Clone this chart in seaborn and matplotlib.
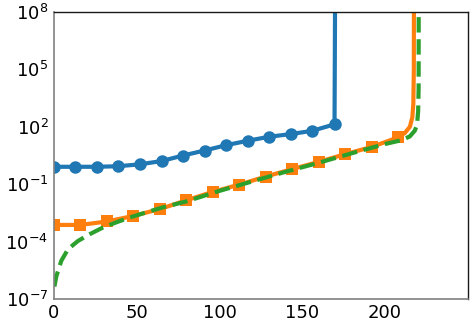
import matplotlib
matplotlib.use("Agg")
import matplotlib.pyplot as plt
import numpy as np
import pandas as pd
import seaborn as sns

sns.set_style("white")
plt.rcParams["font.family"] = ["DejaVu Sans"]
plt.rcParams["font.size"] = 13

# blue series (circles), last point is the blow-up
blue_x = [0, 13, 26, 39, 52, 65, 78, 91, 104, 117, 130, 143, 156, 169.5, 170]
blue_log = [-0.09, -0.09, -0.09, -0.06, 0.04, 0.21, 0.5, 0.76, 1.04, 1.27, 1.48, 1.62, 1.79, 2.13, 12]

# orange series (squares), extra points round the corner
orange_x = [0, 16, 32, 48, 64, 80, 96, 112, 128, 144, 160, 176, 192, 208,
            212, 215, 216.5, 217.1, 217.4, 217.5]
orange_log = [-3.13, -3.13, -2.95, -2.66, -2.30, -1.84, -1.40, -1.02, -0.60, -0.21,
              0.17, 0.57, 0.95, 1.45, 1.68, 2.0, 2.5, 3.2, 5.0, 12]

# green dashed reference curve
green_x = [0.3, 1.5, 4.5, 8.5, 14.5, 21.5, 29.5, 37.5, 45.5, 55.5, 65.5, 80, 100, 120,
           140, 160, 180, 200, 210, 215, 218, 219.3, 220, 220.3, 220.4]
green_log = [-6.35, -5.8, -5.0, -4.4, -3.97, -3.62, -3.27, -3.0, -2.75, -2.48, -2.22,
             -1.9, -1.35, -0.85, -0.35, 0.12, 0.62, 1.1, 1.3, 1.5, 1.8, 2.1, 2.8, 4.0, 12]

blue = pd.DataFrame({"x": blue_x, "y": np.power(10.0, blue_log)})
orange = pd.DataFrame({"x": orange_x, "y": np.power(10.0, orange_log)})
green = pd.DataFrame({"x": green_x, "y": np.power(10.0, green_log)})

fig = plt.figure(figsize=(4.73, 3.26), dpi=100)
ax = fig.add_axes([0.114, 0.083, 0.875, 0.88])

sns.lineplot(data=blue, x="x", y="y", ax=ax, sort=False, estimator=None,
             color="#1f77b4", lw=3, marker="o", ms=9, mew=0,
             markevery=list(range(14)))
sns.lineplot(data=orange, x="x", y="y", ax=ax, sort=False, estimator=None,
             color="#ff7f0e", lw=3, marker="s", ms=8.5, mew=0,
             markevery=list(range(14)))
sns.lineplot(data=green, x="x", y="y", ax=ax, sort=False, estimator=None,
             color="#2ca02c", lw=3, ls="--")

ax.set_yscale("log")
ax.set_xlim(0, 250)
ax.set_ylim(1e-7, 1e8)
ax.set_xticks([0, 50, 100, 150, 200])
ax.set_yticks([1e-7, 1e-4, 1e-1, 1e2, 1e5, 1e8])
ax.yaxis.set_minor_locator(matplotlib.ticker.NullLocator())
ax.set_xlabel("")
ax.set_ylabel("")

for side in ["left", "bottom"]:
    ax.spines[side].set_color("0.5")
    ax.spines[side].set_linewidth(1.2)
for side in ["top", "right"]:
    ax.spines[side].set_color("0.1")
    ax.spines[side].set_linewidth(1.0)
ax.tick_params(direction="in", length=4, width=1, color="0.5",
               labelcolor="black", labelsize=13, pad=4)

fig.savefig("out.png", dpi=100)
